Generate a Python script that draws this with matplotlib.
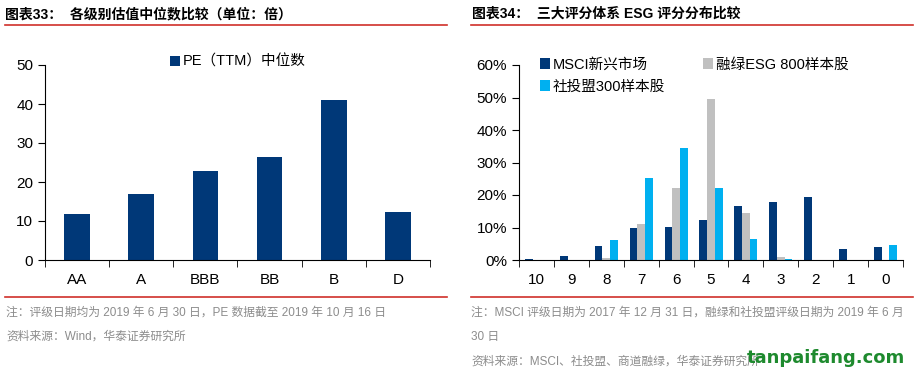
import matplotlib
matplotlib.use("Agg")
import numpy as np
import matplotlib.pyplot as plt
from matplotlib.lines import Line2D

plt.rcParams['font.family'] = ['Liberation Sans', 'Noto Sans CJK SC']

# left chart data
grades = ["AA", "A", "BBB", "BB", "B", "D"]
pe_median = [11.9, 16.9, 22.7, 26.4, 41.1, 12.2]

# right chart data (share of companies per ESG score)
scores = ["10", "9", "8", "7", "6", "5", "4", "3", "2", "1", "0"]
msci = [0.2, 1.2, 4.2, 9.9, 10.3, 12.3, 16.5, 17.8, 19.3, 3.3, 3.9]
rongly = [0.0, 0.0, 0.7, 11.2, 22.2, 49.6, 14.6, 1.0, 0.0, 0.0, 0.0]
shetoumeng = [0.0, 0.0, 6.2, 25.3, 34.4, 22.3, 6.6, 0.3, 0.0, 0.0, 4.6]

navy = "#003878"
grey = "#C0C0C0"
cyan = "#00B0F0"
red = "#D0302A"
note_c = "#8C8C8C"

W, H = 916, 378
fig = plt.figure(figsize=(W / 100, H / 100), dpi=100)

def fx(px):
    return px / W

def fy(py):
    return 1 - py / H

def style_axes(ax, n):
    for s in ["top", "right"]:
        ax.spines[s].set_visible(False)
    ax.spines["left"].set_color("black")
    ax.spines["bottom"].set_color("black")
    ax.set_xlim(-0.5, n - 0.5)
    ax.set_xticks(np.arange(n))
    ax.set_xticks(np.arange(n + 1) - 0.5, minor=True)
    ax.tick_params(axis="x", which="major", length=0, labelsize=11, pad=9)
    ax.tick_params(axis="x", which="minor", length=5, direction="out")
    ax.tick_params(axis="y", length=5, direction="out", labelsize=11)

# ---- left chart ----
ax1 = fig.add_axes([fx(45), fy(260), fx(430) - fx(45), fy(65) - fy(260)])
x1 = np.arange(len(grades))
ax1.bar(x1, pe_median, width=0.4, color=navy, label="PE（TTM）中位数")
style_axes(ax1, len(grades))
ax1.set_xticklabels(grades)
ax1.set_ylim(0, 50)
ax1.set_yticks(range(0, 51, 10))
ax1.legend(loc="upper center", bbox_to_anchor=(0.5, 1.12), frameon=False,
           fontsize=10.5, handlelength=0.7, handleheight=0.7, handletextpad=0.2)

# ---- right chart ----
ax2 = fig.add_axes([fx(519), fy(260), fx(903) - fx(519), fy(65) - fy(260)])
x2 = np.arange(len(scores))
bw = 0.22
ax2.bar(x2 - bw, msci, width=bw, color=navy, label="MSCI新兴市场")
ax2.bar(x2, rongly, width=bw, color=grey, label="融绿ESG 800样本股")
ax2.bar(x2 + bw, shetoumeng, width=bw, color=cyan, label="社投盟300样本股")
style_axes(ax2, len(scores))
ax2.set_xticklabels(scores)
ax2.set_ylim(0, 60)
ax2.set_yticks(range(0, 61, 10))
ax2.set_yticklabels([f"{v}%" for v in range(0, 61, 10)])
h, l = ax2.get_legend_handles_labels()
ax2.legend([h[0], h[2], h[1]], [l[0], l[2], l[1]], ncol=2,
           loc="upper left", bbox_to_anchor=(0.02, 1.105), frameon=False,
           fontsize=10.5, handlelength=0.7, handleheight=0.7, handletextpad=0.2,
           columnspacing=2.6, labelspacing=0.55)

# ---- titles, rules, notes ----
fig.text(fx(5), fy(14), "图表33：  各级别估值中位数比较（单位：倍）",
         fontsize=10, fontweight="bold", va="center", ha="left")
fig.text(fx(472), fy(14), "图表34：  三大评分体系 ESG 评分分布比较",
         fontsize=10, fontweight="bold", va="center", ha="left")

for xa, xb in [(5, 447), (471, 913)]:
    for yy in (25, 297):
        fig.add_artist(Line2D([fx(xa), fx(xb)], [fy(yy), fy(yy)],
                              color=red, lw=1.2))

fig.text(fx(6), fy(313), "注：评级日期均为 2019 年 6 月 30 日，PE 数据截至 2019 年 10 月 16 日",
         fontsize=8.5, color=note_c, va="center")
fig.text(fx(6), fy(337), "资料来源：Wind，华泰证券研究所",
         fontsize=8.5, color=note_c, va="center")
fig.text(fx(471), fy(313),
         "注：MSCI 评级日期为 2017 年 12 月 31 日，融绿和社投盟评级日期为 2019 年 6 月",
         fontsize=8.5, color=note_c, va="center")
fig.text(fx(471), fy(337), "30 日", fontsize=8.5, color=note_c, va="center")
fig.text(fx(471), fy(362), "资料来源：MSCI、社投盟、商道融绿，华泰证券研究所",
         fontsize=8.5, color=note_c, va="center")

# watermark
fig.text(fx(747), fy(358), "tanpaifang.com", fontsize=13, fontweight="bold",
         color="#1E8A2E", va="center", ha="left", family="DejaVu Sans")

fig.savefig("out.png", dpi=100)
